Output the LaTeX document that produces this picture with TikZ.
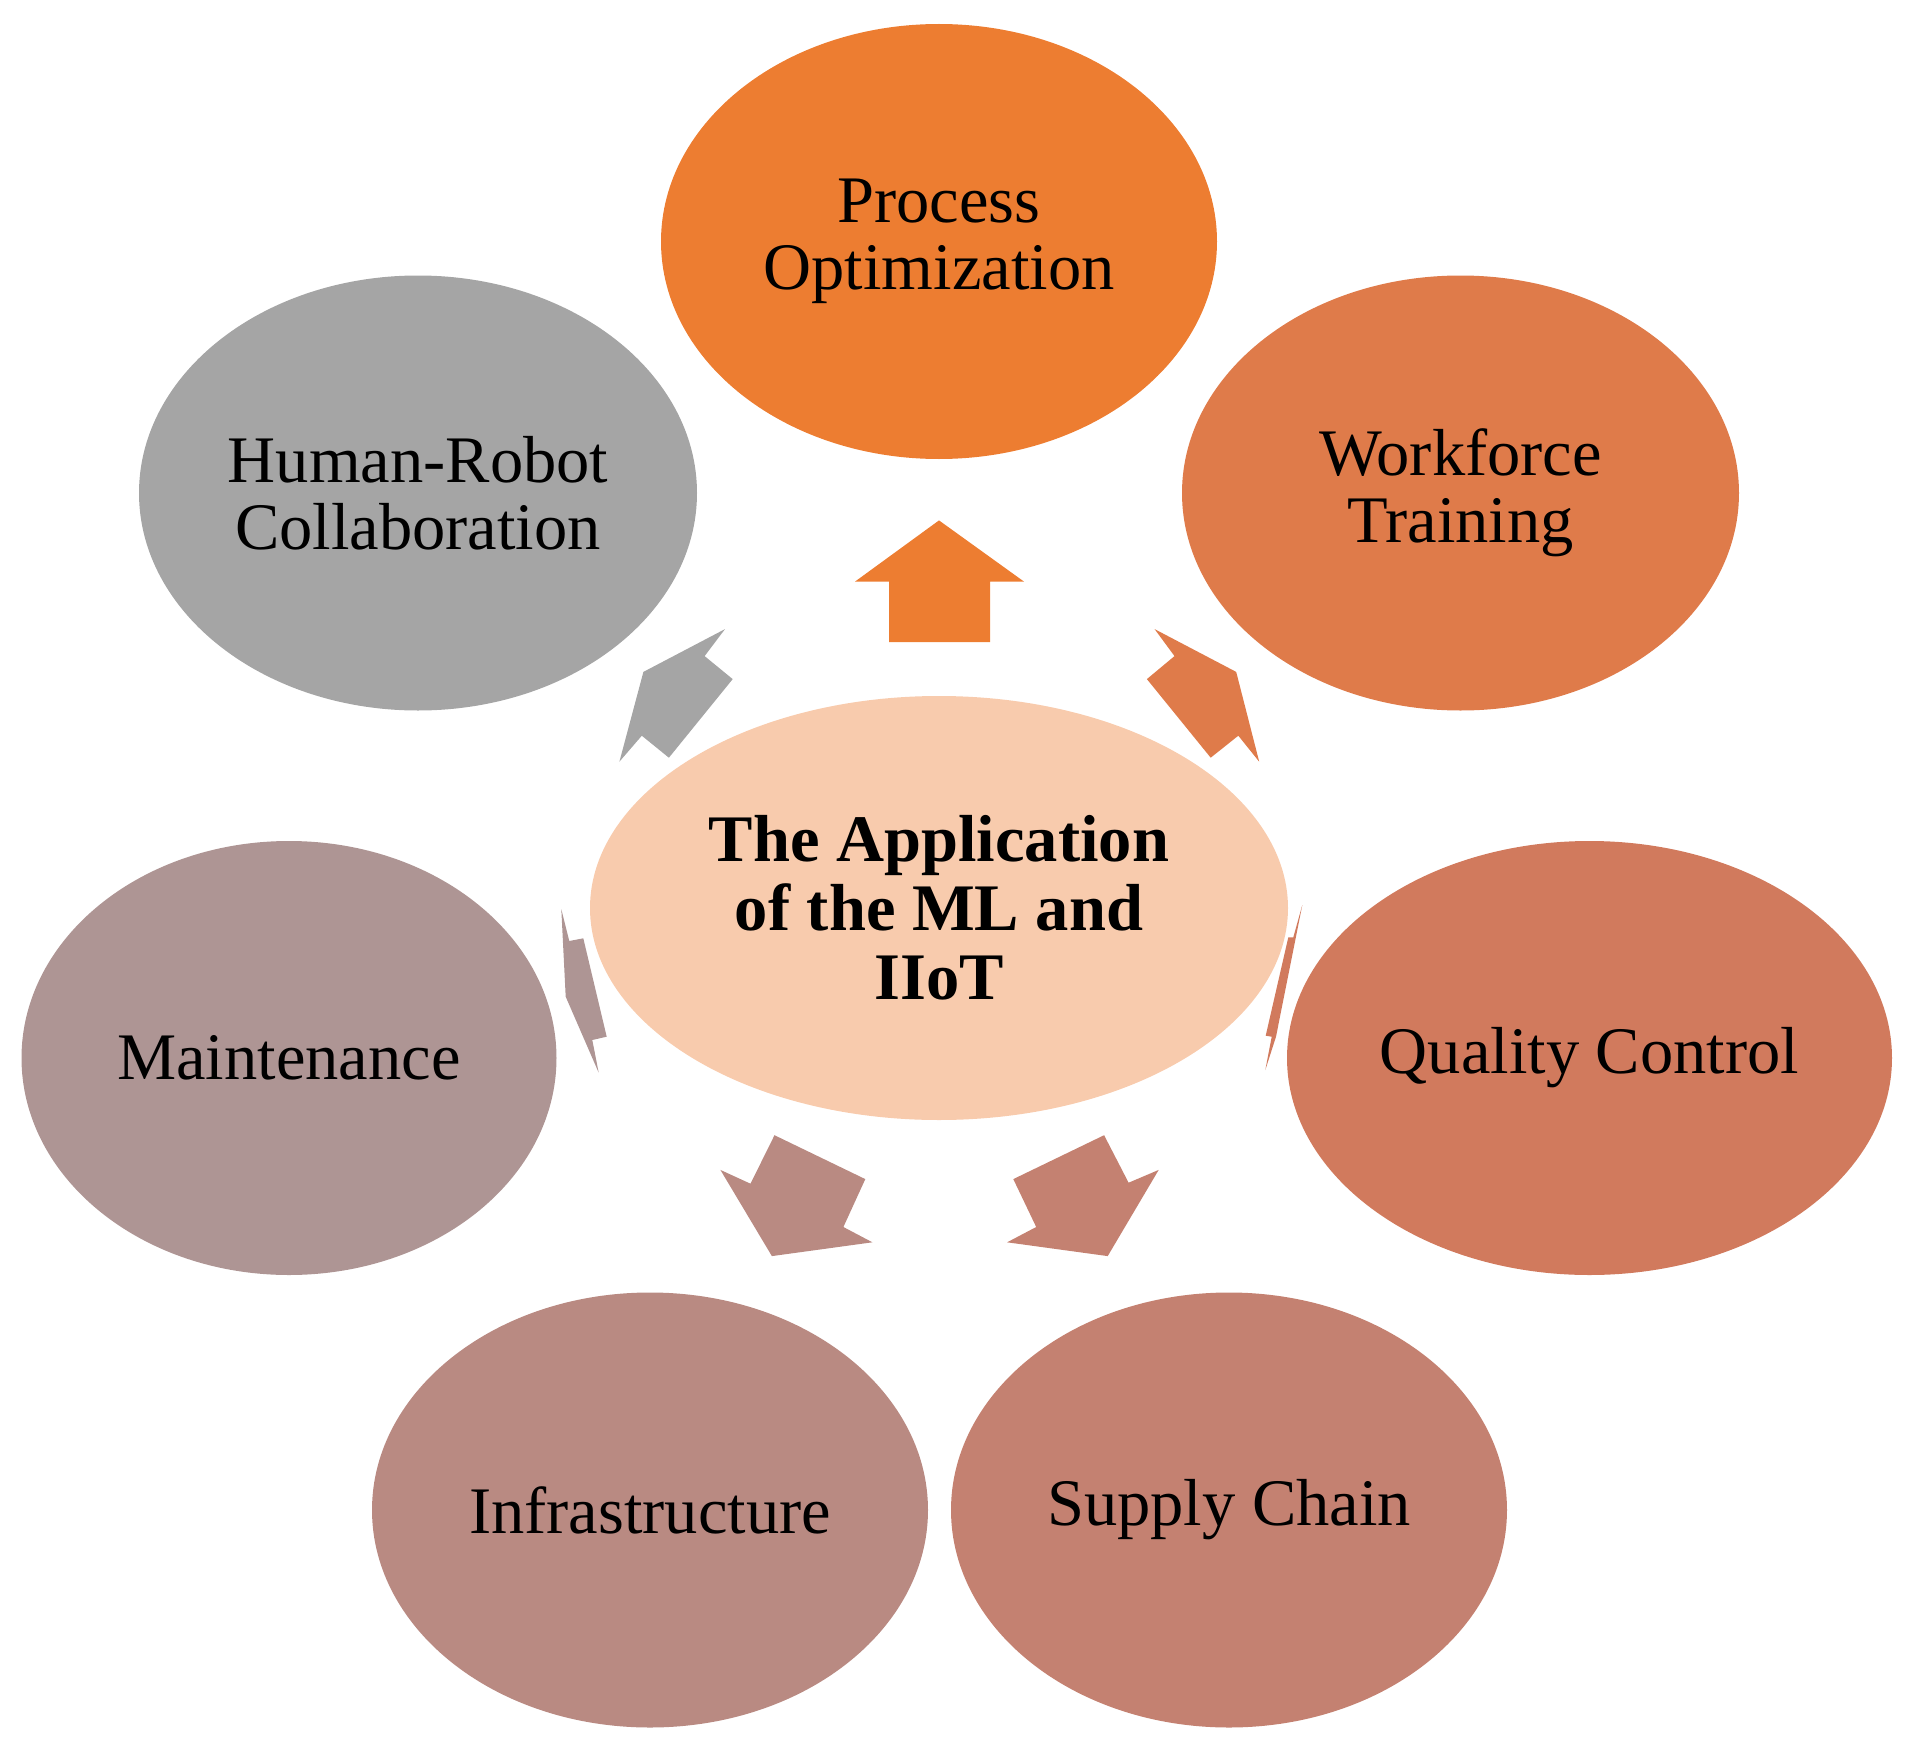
\documentclass[tikz,border=0pt]{standalone}
\usepackage{fontspec}
\setmainfont{Liberation Serif}
\usetikzlibrary{shapes.geometric}
\definecolor{cProc}{HTML}{ED7D31}
\definecolor{cWork}{HTML}{DF7B4A}
\definecolor{cQual}{HTML}{D17A5D}
\definecolor{cSupp}{HTML}{C48171}
\definecolor{cInfr}{HTML}{B98A82}
\definecolor{cMain}{HTML}{AE9594}
\definecolor{cHuma}{HTML}{A5A5A5}
\definecolor{cCent}{HTML}{F8CBAD}
\begin{document}
\begin{tikzpicture}[x=0.5pt,y=-0.5pt,
  bubble/.style={ellipse, inner sep=-40pt, align=center, text=black,
    font=\fontsize{33.25}{33.5}\selectfont},
  hub/.style={ellipse, inner sep=-40pt, align=center, text=black, fill=cCent,
    font=\fontsize{33.25}{34.5}\selectfont\bfseries}]
\useasboundingbox (0,0) rectangle (1913,1750);
% outer ellipses
\node[bubble, fill=cProc, minimum width=278pt, minimum height=217.5pt] (proc) at (939,241.5) {Process\\Optimization};
\node[bubble, fill=cWork, minimum width=278.5pt, minimum height=217.5pt] (work) at (1460.5,493) {Workforce\\Training};
\node[bubble, fill=cQual, minimum width=302.5pt, minimum height=217pt] (qual) at (1589.5,1058) {Quality Control};
\node[bubble, fill=cSupp, minimum width=278pt, minimum height=217.5pt] (supp) at (1229,1510) {Supply Chain};
\node[bubble, fill=cInfr, minimum width=278pt, minimum height=217.5pt] (infr) at (650,1510) {Infrastructure};
\node[bubble, fill=cMain, minimum width=267.5pt, minimum height=217pt] (main) at (289,1058) {Maintenance};
\node[bubble, fill=cHuma, minimum width=279pt, minimum height=217.5pt] (huma) at (418,493) {Human-Robot\\Collaboration};
% centre
\node[hub, minimum width=349pt, minimum height=212pt] (cent) at (939,908) {The Application\\of the ML and\\IIoT};
% block arrows
\fill[cProc] (939,520.4) -- (1024,581.6) -- (990,581.6) -- (990,642) -- (889,642) -- (889,581.6) -- (855,581.6) -- cycle;
\fill[cWork] (1236.2,671.9) -- (1154.6,629.1) -- (1174.5,656.1) -- (1146.9,679.1) -- (1210.7,757.7) -- (1238.3,735.7) -- (1259.2,761.7) -- cycle;
\fill[cHuma] (643.4,671.9) -- (725.0,629.1) -- (704.6,656.1) -- (732.7,679.1) -- (668.9,757.7) -- (641.8,735.7) -- (619.4,761.7) -- cycle;
\fill[cQual] (1302.3,905) -- (1293.3,937.3) -- (1288.3,937.3) -- (1265.7,1035.7) -- (1271.7,1036.7) -- (1265.3,1070) -- (1276,1036.7) -- cycle;
\fill[cMain] (561.3,909) -- (569.3,941) -- (583.3,938.3) -- (606.7,1036.7) -- (592.3,1040) -- (598.7,1072.7) -- (565.7,996.7) -- cycle;
\fill[cInfr] (774.5,1135.2) -- (865.3,1179.1) -- (843.4,1227.0) -- (872.4,1242.3) -- (771.9,1256.1) -- (720.4,1169.9) -- (750.5,1183.7) -- cycle;
\fill[cSupp] (1104.1,1135.2) -- (1013.3,1179.1) -- (1036.2,1227.0) -- (1007.1,1242.3) -- (1107.7,1256.1) -- (1158.7,1169.9) -- (1128.6,1182.7) -- cycle;
\end{tikzpicture}
\end{document}
